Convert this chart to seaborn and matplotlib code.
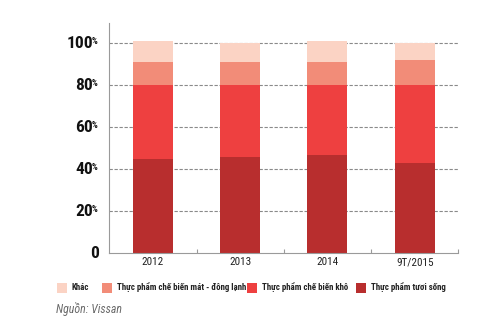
import matplotlib
matplotlib.use("Agg")
import matplotlib.pyplot as plt
import matplotlib.transforms as mtransforms
from matplotlib.patches import Rectangle
import numpy as np
import pandas as pd
import seaborn as sns

# Cơ cấu doanh thu theo nhóm sản phẩm (%)
periods = ["2012", "2013", "2014", "9T/2015"]
tuoi_song = [45, 46, 47, 43]      # Thực phẩm tươi sống
che_bien_kho = [35, 34, 33, 37]   # Thực phẩm chế biến khô
mat_dong_lanh = [11, 11, 11, 12]  # Thực phẩm chế biến mát - đông lạnh
khac = [10, 9, 10, 8]             # Khác

series_names = ["Thực phẩm tươi sống", "Thực phẩm chế biến khô",
                "Thực phẩm chế biến mát - đông lạnh", "Khác"]
series_values = [tuoi_song, che_bien_kho, mat_dong_lanh, khac]
series_colors = ["#B82E2E", "#EE4040", "#F28C78", "#FBD3C4"]

y_ticks = [0, 20, 40, 60, 80, 100]

sns.set_theme(style="white")
FONT = ["Roboto Condensed", "Liberation Sans Narrow", "Roboto", "DejaVu Sans"]
plt.rcParams["font.family"] = FONT

fig = plt.figure(figsize=(5.0, 3.3), dpi=100)
ax = fig.add_axes([0.2186, 0.2324, 0.698, 0.697])

# Stacked bars: draw cumulative totals from the top layer down
cum = np.cumsum(np.array(series_values), axis=0)
for i in range(len(series_names) - 1, -1, -1):
    df = pd.DataFrame({"period": periods, "value": cum[i]})
    sns.barplot(data=df, x="period", y="value", color=series_colors[i],
                saturation=1, width=0.457, ax=ax, zorder=2,
                edgecolor="none", linewidth=0)

ax.set_xlim(-0.5, 3.5)
ax.set_ylim(0, 109.5)
ax.set_xlabel("")
ax.set_ylabel("")

# Dashed gridlines
for v in y_ticks[1:]:
    ax.axhline(v, color="#8a8a8a", lw=0.8, ls=(0, (3, 1.5)), zorder=1)

for side in ["top", "right"]:
    ax.spines[side].set_visible(False)
for side in ["left", "bottom"]:
    ax.spines[side].set_color("#9a9a9a")
    ax.spines[side].set_linewidth(0.8)

# X ticks between categories, labels at category centres
ax.set_xticks([0.5, 1.5, 2.5, 3.5])
ax.set_xticklabels([])
ax.tick_params(axis="x", which="major", direction="in", length=3,
               color="#9a9a9a", width=0.8, bottom=True)
ax.set_xticks(range(len(periods)), minor=True)
ax.set_xticklabels(periods, minor=True, fontsize=8, color="#222222",
                   family=FONT, stretch="condensed")
ax.tick_params(axis="x", which="minor", length=0, pad=3)

# Y labels: number with a small percent sign
ax.set_yticks([])
ytrans = ax.get_yaxis_transform()
for v in y_ticks:
    if v == 0:
        off = mtransforms.ScaledTranslation(-10 / 100, 0, fig.dpi_scale_trans)
        ax.text(0, v, "0", transform=ytrans + off, ha="right", va="center",
                fontsize=12.5, fontweight="bold", color="#111111",
                family=FONT, stretch="condensed")
    else:
        off = mtransforms.ScaledTranslation(-16 / 100, 0, fig.dpi_scale_trans)
        ax.text(0, v, str(v), transform=ytrans + off, ha="right",
                va="center", fontsize=12.5, fontweight="bold",
                color="#111111", family=FONT, stretch="condensed")
        off2 = mtransforms.ScaledTranslation(-17.5 / 100, 1.5 / 100,
                                             fig.dpi_scale_trans)
        ax.text(0, v, "%", transform=ytrans + off2, ha="left",
                va="center", fontsize=6.5, fontweight="bold",
                color="#111111", family=FONT, stretch="condensed")

# Legend row
W, H = 500.0, 330.0
legend_items = [
    ("Khác", series_colors[3], 57, 72),
    ("Thực phẩm chế biến mát - đông lạnh", series_colors[2], 102, 117),
    ("Thực phẩm chế biến khô", series_colors[1], 247, 262),
    ("Thực phẩm tươi sống", series_colors[0], 356, 371),
]
ly = 287.5
for label, col, sx, tx in legend_items:
    fig.patches.append(Rectangle((sx / W, 1 - (ly + 5) / H), 9.5 / W, 10 / H,
                                 transform=fig.transFigure, color=col,
                                 lw=0))
    fig.text(tx / W, 1 - ly / H, label, ha="left", va="center",
             fontsize=6.4, fontweight="bold", color="#222222", family=FONT,
             stretch="condensed")

fig.text(56 / W, 1 - 309 / H, "Nguồn: Vissan", ha="left", va="center",
         fontsize=8.6, style="italic", color="#6a6a6a", family=FONT,
         stretch="condensed")

fig.savefig("out.png", dpi=100, facecolor="white")
